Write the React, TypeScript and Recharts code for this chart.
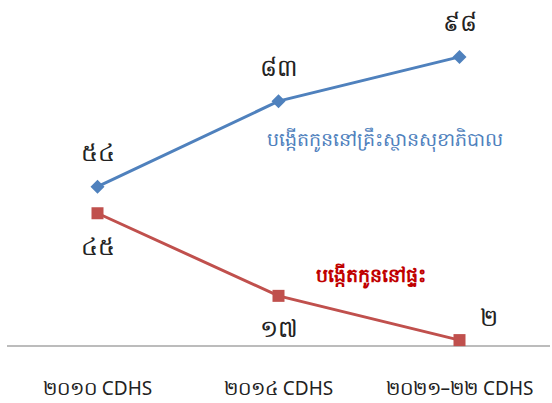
import { LineChart, Line, XAxis, YAxis, LabelList, ReferenceDot } from 'recharts';

const surveys = ['២០១០ CDHS', '២០១៤ CDHS', '២០២១–២២ CDHS'];
const facilityValues = [54, 83, 98];
const homeValues = [45, 17, 2];
const facilityLabels = ['៥៤', '៨៣', '៩៨'];
const homeLabels = ['៤៥', '១៧', '២'];
const facilityName = 'បង្កើតកូននៅគ្រឹះស្ថានសុខាភិបាល';
const homeName = 'បង្កើតកូននៅផ្ទះ';

const BLUE = '#4F81BD';
const RED = '#C0504D';
const FONT = '"Noto Sans", "DejaVu Sans", sans-serif';

const data = surveys.map((s, i) => ({
  x: i,
  survey: s,
  facility: facilityValues[i],
  home: homeValues[i],
}));

const Diamond = (props: any) => {
  const { cx, cy } = props;
  if (cx == null || cy == null) return null;
  const r = 7;
  return <path d={`M${cx},${cy - r}L${cx + r},${cy}L${cx},${cy + r}L${cx - r},${cy}Z`} fill={BLUE} />;
};

const Square = (props: any) => {
  const { cx, cy } = props;
  if (cx == null || cy == null) return null;
  return <rect x={cx - 6} y={cy - 6} width={12} height={12} fill={RED} />;
};

const facilityLabel = (props: any) => {
  const { x, y, index } = props;
  return (
    <text x={x} y={y - 35} textAnchor="middle" dominantBaseline="central" fontSize={24} fontFamily={FONT} fill="#222">
      {facilityLabels[index]}
    </text>
  );
};

const homeLabel = (props: any) => {
  const { x, y, index } = props;
  const last = index === homeLabels.length - 1;
  return (
    <text
      x={last ? x + 29 : x}
      y={last ? y - 24 : y + 32}
      textAnchor="middle"
      dominantBaseline="central"
      fontSize={24}
      fontFamily={FONT}
      fill="#222"
    >
      {homeLabels[index]}
    </text>
  );
};

const Tick = (props: any) => {
  const { x, y, payload } = props;
  return (
    <text x={x} y={y + 34} textAnchor="middle" dominantBaseline="central" fontSize={19} fontFamily={FONT} fill="#222">
      {surveys[payload.value]}
    </text>
  );
};

export default function App() {
  return (
    <div style={{ position: 'absolute', left: 0, top: 0, background: '#fff' }}>
      <LineChart width={552} height={403} data={data} margin={{ top: 51, right: 2, bottom: 0, left: 7 }}>
        <XAxis
          dataKey="x"
          type="number"
          domain={[-0.5, 2.5]}
          ticks={[0, 1, 2]}
          tickLine={false}
          axisLine={{ stroke: '#A6A6A6', strokeWidth: 1.5 }}
          tick={<Tick />}
          interval={0}
          height={57}
        />
        <YAxis hide domain={[0, 100]} />
        <Line
          dataKey="facility"
          stroke={BLUE}
          strokeWidth={3}
          dot={<Diamond />}
          activeDot={false}
          isAnimationActive={false}
        >
          <LabelList dataKey="facility" content={facilityLabel} />
        </Line>
        <Line
          dataKey="home"
          stroke={RED}
          strokeWidth={3}
          dot={<Square />}
          activeDot={false}
          isAnimationActive={false}
        >
          <LabelList dataKey="home" content={homeLabel} />
        </Line>
        <ReferenceDot
          x={1.59}
          y={70}
          r={0}
          stroke="none"
          label={{ value: facilityName, fill: BLUE, fontSize: 19, fontFamily: FONT, position: 'center' }}
        />
        <ReferenceDot
          x={1.51}
          y={24}
          r={0}
          stroke="none"
          label={{ value: homeName, fill: '#C00000', fontSize: 19, fontFamily: FONT, fontWeight: 'bold', position: 'center' }}
        />
      </LineChart>
    </div>
  );
}
